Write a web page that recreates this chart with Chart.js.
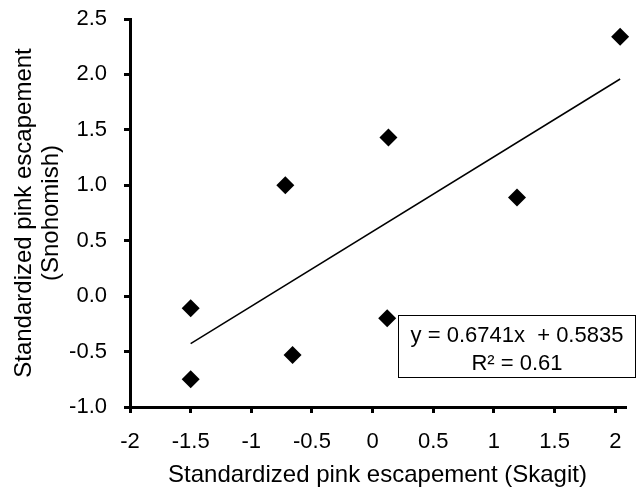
<!DOCTYPE html>
<html>
<head>
<meta charset="utf-8">
<script src="https://cdn.jsdelivr.net/npm/chart.js@4.4.0/dist/chart.umd.min.js"></script>
<style>
  html, body { margin: 0; padding: 0; background: #fff; }
  #wrap { width: 637px; height: 487px; }
</style>
</head>
<body>
<div id="wrap"><canvas id="chart" width="637" height="487"></canvas></div>
<script>
// Standardized pink escapement, one point per year
const skagit = [-1.5, -1.5, -0.72, -0.66, 0.12, 0.13, 1.19, 2.04];
const snohomish = [-0.11, -0.75, 1.0, -0.53, -0.2, 1.43, 0.89, 2.34];

// Linear trendline as printed on the chart
const slope = 0.6741;
const intercept = 0.5835;
const rSquared = 0.61;

const xTicks = [-2, -1.5, -1, -0.5, 0, 0.5, 1, 1.5, 2];
const yTicks = [-1, -0.5, 0, 0.5, 1, 1.5, 2, 2.5];

const xTitle = 'Standardized pink escapement (Skagit)';
const yTitle = ['Standardized pink escapement', '(Snohomish)'];
const eqLines = ['y = 0.6741x  + 0.5835', 'R\u00b2 = ' + rSquared];

const FONT = "'Liberation Sans', Arial, sans-serif";

const points = skagit.map((x, i) => ({ x: x, y: snohomish[i] }));
const xMin = Math.min(...skagit);
const xMax = Math.max(...skagit);
const trend = [
    { x: xMin, y: slope * xMin + intercept },
    { x: xMax, y: slope * xMax + intercept }
];

// Box with the regression equation, bottom right of the plot
const equationBox = {
    id: 'equationBox',
    afterDraw(chart) {
        const ctx = chart.ctx;
        const area = chart.chartArea;
        const right = area.right + 11;
        const left = right - 238;
        const bottom = area.bottom - 29;
        const top = bottom - 63;
        ctx.save();
        ctx.fillStyle = '#fff';
        ctx.fillRect(left, top, right - left, bottom - top);
        ctx.strokeStyle = '#000';
        ctx.lineWidth = 1;
        ctx.strokeRect(left + 0.5, top + 0.5, right - left - 1, bottom - top - 1);
        ctx.fillStyle = '#000';
        ctx.font = '22px ' + FONT;
        ctx.textAlign = 'center';
        ctx.textBaseline = 'middle';
        const cx = (left + right) / 2;
        ctx.fillText(eqLines[0], cx, top + 21);
        ctx.fillText(eqLines[1], cx, top + 49);
        ctx.restore();
    }
};

const tickFont = { family: FONT, size: 22 };

new Chart(document.getElementById('chart'), {
    type: 'scatter',
    data: {
        datasets: [
            {
                label: 'Escapement',
                data: points,
                pointStyle: 'rectRot',
                pointRadius: 9,
                pointHoverRadius: 9,
                backgroundColor: '#000',
                borderColor: '#000',
                borderWidth: 0,
                clip: false
            },
            {
                label: 'Trend',
                type: 'line',
                data: trend,
                borderColor: '#000',
                borderWidth: 1.5,
                pointRadius: 0,
                fill: false
            }
        ]
    },
    options: {
        responsive: false,
        animation: false,
        layout: { padding: { top: 19, right: 12, left: 0, bottom: 0 } },
        plugins: {
            legend: { display: false },
            tooltip: { enabled: false }
        },
        scales: {
            x: {
                type: 'linear',
                position: 'bottom',
                min: -2,
                max: 2.08,
                afterBuildTicks: (axis) => { axis.ticks = xTicks.map(v => ({ value: v })); },
                afterFit: (axis) => {
                    axis.height = 80;
                    axis.paddingLeft = 0;
                    axis.paddingRight = 0;
                },
                ticks: {
                    color: '#000',
                    font: tickFont,
                    padding: 16,
                    maxRotation: 0,
                    callback: (v) => String(v)
                },
                grid: {
                    display: true,
                    drawOnChartArea: false,
                    drawTicks: true,
                    tickLength: 6,
                    color: '#000',
                    lineWidth: 3
                },
                border: { display: true, color: '#000', width: 3 },
                title: {
                    display: true,
                    text: xTitle,
                    color: '#000',
                    font: { family: FONT, size: 24, lineHeight: 1 },
                    padding: { top: 0, bottom: 0 }
                }
            },
            y: {
                type: 'linear',
                min: -1,
                max: 2.5,
                afterBuildTicks: (axis) => { axis.ticks = yTicks.map(v => ({ value: v })); },
                afterFit: (axis) => {
                    axis.width = 130;
                    axis.paddingTop = 0;
                    axis.paddingBottom = 0;
                },
                ticks: {
                    color: '#000',
                    font: tickFont,
                    padding: 17,
                    callback: (v) => v.toFixed(1)
                },
                grid: {
                    display: true,
                    drawOnChartArea: false,
                    drawTicks: true,
                    tickLength: 6,
                    color: '#000',
                    lineWidth: 3
                },
                border: { display: true, color: '#000', width: 3 },
                title: {
                    display: true,
                    text: yTitle,
                    color: '#000',
                    font: { family: FONT, size: 24, lineHeight: 1.125 },
                    padding: { top: 11, bottom: 0 }
                }
            }
        }
    },
    plugins: [equationBox]
});
</script>
</body>
</html>
